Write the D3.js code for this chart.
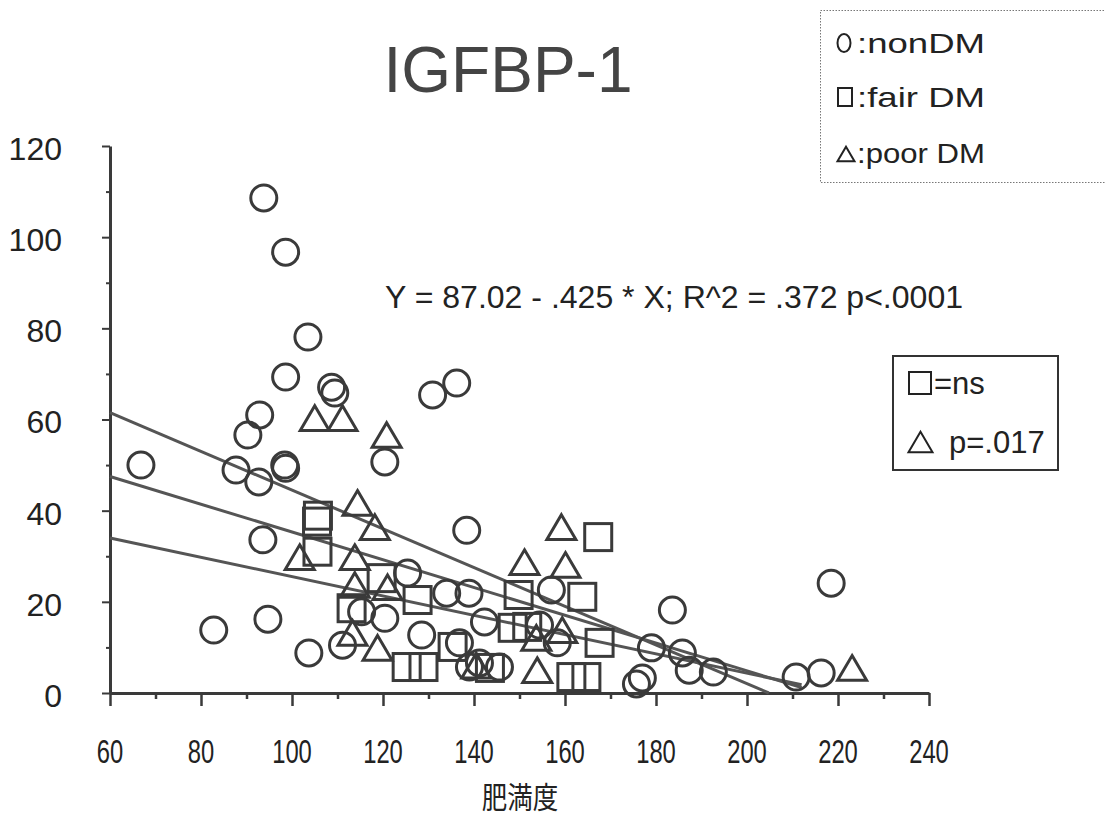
<!DOCTYPE html>
<html>
<head>
<meta charset="utf-8">
<script src="https://cdn.jsdelivr.net/npm/d3@7"></script>
<style>
  body { margin: 0; background: #fff; }
  svg { display: block; }
</style>
</head>
<body>
<div id="chart"></div>
<script>
// Chart values
var nonDmX = [66.8, 82.8, 93.8, 98.6, 103.5, 98.6, 108.7, 109.4, 92.9, 90.3, 87.7, 92.7, 98.4, 98.6,
    93.6, 94.7, 103.7, 111.1, 120.4, 130.9, 136.2, 138.4, 125.4, 115.3, 120.4, 134.0, 138.9,
    142.3, 128.5, 136.8, 139.0, 141.2, 145.6, 157.0, 154.4, 158.3, 175.7, 177.0, 183.6, 218.5,
    179.0, 185.8, 187.3, 192.6, 210.8, 216.3];
var nonDmY = [50.0, 13.8, 108.6, 96.7, 78.1, 69.3, 67.1, 65.8, 61.0, 56.6, 48.9, 46.3, 50.0, 49.3,
    33.6, 16.2, 8.8, 10.5, 50.7, 65.4, 68.0, 35.7, 26.3, 17.8, 16.4, 21.9, 21.9,
    15.6, 12.7, 11.0, 5.7, 6.6, 5.7, 22.6, 14.9, 11.0, 2.0, 3.3, 18.2, 24.1,
    9.9, 8.8, 5.0, 4.6, 3.5, 4.4];

var fairDmX = [105.7, 105.5, 105.6, 119.7, 113.1, 127.6, 125.2, 128.9, 135.3, 143.5, 149.8, 163.8,
    167.3, 148.5, 151.7, 167.6, 161.4, 164.7];
var fairDmY = [38.9, 37.6, 31.0, 25.2, 18.6, 20.4, 5.7, 5.7, 10.1, 5.5, 21.5, 21.1,
    34.2, 14.3, 14.5, 11.0, 3.5, 3.5];

var poorDmX = [105.0, 111.1, 120.8, 114.4, 118.2, 101.7, 113.8, 113.8, 121.0, 113.3, 118.8, 159.2,
    151.1, 160.1, 153.9, 223.1, 159.4, 153.7, 140.5];
var poorDmY = [60.3, 60.3, 56.6, 41.7, 36.4, 29.8, 29.8, 23.7, 23.2, 13.2, 9.9, 36.4,
    28.7, 28.1, 5.0, 5.5, 13.8, 12.1, 6.0];

// regression lines (start at x = 60)
var lineStartY = [61.5, 47.5, 34.0];
var lineEndX = [204.8, 212, 212];
var lineEndY = [0, 1.2, 1.8];

var xMajorTicks = [60, 80, 100, 120, 140, 160, 180, 200, 220, 240];
var yMajorTicks = [0, 20, 40, 60, 80, 100, 120];

var legendLabels = [":nonDM", ":fair DM", ":poor DM"];
var statLabels = ["=ns", "p=.017"];

var width = 1105, height = 817;
var ink = "#3a3a3a";

var svg = d3.select("#chart").append("svg")
    .attr("width", width)
    .attr("height", height);

var x = d3.scaleLinear().domain([60, 240]).range([110, 929]);
var y = d3.scaleLinear().domain([0, 120]).range([693, 146]);

// title
svg.append("text")
    .attr("x", 508)
    .attr("y", 92)
    .attr("text-anchor", "middle")
    .style("font-family", "Liberation Sans, Arial, sans-serif")
    .style("font-size", "64px")
    .style("fill", "#444")
    .text("IGFBP-1");

// x axis: minor then major ticks
svg.append("g")
    .attr("transform", "translate(0," + y(0) + ")")
    .call(d3.axisBottom(x).tickValues(d3.range(70, 240, 20)).tickSize(6).tickFormat("").tickSizeOuter(0))
    .call(g => g.select(".domain").remove())
    .selectAll("line").attr("stroke", ink).attr("stroke-width", 2.5);

var xAxis = svg.append("g")
    .attr("transform", "translate(0," + y(0) + ")")
    .call(d3.axisBottom(x).tickValues(xMajorTicks).tickSize(13).tickFormat("").tickSizeOuter(0));
xAxis.select(".domain").attr("stroke", ink).attr("stroke-width", 3);
xAxis.selectAll("line").attr("stroke", ink).attr("stroke-width", 2.5);

svg.append("g")
    .selectAll("text")
    .data(xMajorTicks)
    .enter()
    .append("text")
    .attr("transform", d => "translate(" + x(d) + ",763) scale(0.7,1)")
    .attr("text-anchor", "middle")
    .style("font-family", "Liberation Sans, Arial, sans-serif")
    .style("font-size", "34px")
    .style("fill", "#222")
    .text(d => d);

// y axis
svg.append("g")
    .attr("transform", "translate(" + x(60) + ",0)")
    .call(d3.axisLeft(y).tickValues(d3.range(10, 120, 20)).tickSize(4).tickFormat("").tickSizeOuter(0))
    .call(g => g.select(".domain").remove())
    .selectAll("line").attr("stroke", ink).attr("stroke-width", 2);

var yAxis = svg.append("g")
    .attr("transform", "translate(" + x(60) + ",0)")
    .call(d3.axisLeft(y).tickValues(yMajorTicks).tickSize(8).tickPadding(40).tickSizeOuter(0));
yAxis.select(".domain").attr("stroke", ink).attr("stroke-width", 3);
yAxis.selectAll("line").attr("stroke", ink).attr("stroke-width", 2);
yAxis.selectAll("text")
    .attr("dy", "0.42em")
    .style("font-family", "Liberation Sans, Arial, sans-serif")
    .style("font-size", "32px")
    .style("fill", "#222");

// x axis title
svg.append("text")
    .attr("transform", "translate(520,808) scale(0.85,1)")
    .attr("text-anchor", "middle")
    .style("font-family", "Noto Sans CJK JP, sans-serif")
    .style("font-size", "30px")
    .style("fill", "#222")
    .text("肥満度");

// equation
svg.append("text")
    .attr("x", 385)
    .attr("y", 308)
    .attr("textLength", 578)
    .attr("lengthAdjust", "spacingAndGlyphs")
    .style("font-family", "Liberation Sans, Arial, sans-serif")
    .style("font-size", "31px")
    .style("fill", "#222")
    .text("Y = 87.02 - .425 * X; R^2 = .372 p<.0001");

// regression lines
var fit = d3.line().x(d => x(d[0])).y(d => y(d[1]));
svg.append("g")
    .selectAll("path")
    .data(lineStartY.map((s, i) => [[60, s], [lineEndX[i], lineEndY[i]]]))
    .enter()
    .append("path")
    .attr("d", fit)
    .attr("fill", "none")
    .attr("stroke", "#555")
    .attr("stroke-width", 3);

// markers
var marks = svg.append("g")
    .attr("fill", "none")
    .attr("stroke", ink)
    .attr("stroke-width", 3);

var triangle = function(cx, cy, s) {
    var p = d3.path();
    p.moveTo(cx, cy - s * 0.85);
    p.lineTo(cx + s, cy + s * 0.85);
    p.lineTo(cx - s, cy + s * 0.85);
    p.closePath();
    return p.toString();
};

marks.selectAll(".fair")
    .data(fairDmX.map((v, i) => [v, fairDmY[i]]))
    .enter()
    .append("rect")
    .attr("class", "fair")
    .attr("x", d => x(d[0]) - 13.5)
    .attr("y", d => y(d[1]) - 13.5)
    .attr("width", 27)
    .attr("height", 27);

marks.selectAll(".poor")
    .data(poorDmX.map((v, i) => [v, poorDmY[i]]))
    .enter()
    .append("path")
    .attr("class", "poor")
    .attr("d", d => triangle(x(d[0]), y(d[1]), 14.5));

marks.selectAll(".non")
    .data(nonDmX.map((v, i) => [v, nonDmY[i]]))
    .enter()
    .append("circle")
    .attr("class", "non")
    .attr("cx", d => x(d[0]))
    .attr("cy", d => y(d[1]))
    .attr("r", 13);

// legend: groups
var legend = svg.append("g");
legend.append("rect")
    .attr("x", 820.5)
    .attr("y", 10.5)
    .attr("width", 290)
    .attr("height", 172)
    .attr("fill", "none")
    .attr("stroke", "#777")
    .attr("stroke-width", 1)
    .attr("stroke-dasharray", "1.5,1.5");

var legendY = [43, 97, 153];
var lg = legend.append("g").attr("fill", "none").attr("stroke", "#222").attr("stroke-width", 2);
lg.append("ellipse").attr("cx", 844).attr("cy", legendY[0]).attr("rx", 6.5).attr("ry", 9);
lg.append("rect").attr("x", 838).attr("y", legendY[1] - 9).attr("width", 14).attr("height", 18);
lg.append("path").attr("d", triangle(846, legendY[2] + 1, 8.5));

legend.selectAll("text")
    .data(legendLabels)
    .enter()
    .append("text")
    .attr("x", 857)
    .attr("y", (d, i) => legendY[i] + 10)
    .attr("textLength", 128)
    .attr("lengthAdjust", "spacingAndGlyphs")
    .style("font-family", "Liberation Sans, Arial, sans-serif")
    .style("font-size", "28px")
    .style("fill", "#222")
    .text(d => d);

// legend: significance
var stat = svg.append("g");
stat.append("rect")
    .attr("x", 893)
    .attr("y", 356)
    .attr("width", 165)
    .attr("height", 114)
    .attr("fill", "#fff")
    .attr("stroke", "#333")
    .attr("stroke-width", 2);

var statY = [383, 442];
var sg = stat.append("g").attr("fill", "none").attr("stroke", "#222").attr("stroke-width", 2);
sg.append("rect").attr("x", 909).attr("y", statY[0] - 11).attr("width", 22).attr("height", 22);
sg.append("path").attr("d", triangle(920.5, statY[1], 12));

stat.selectAll("text")
    .data(statLabels)
    .enter()
    .append("text")
    .attr("x", (d, i) => i === 0 ? 934 : 949)
    .attr("y", (d, i) => statY[i] + 11)
    .style("font-family", "Liberation Sans, Arial, sans-serif")
    .style("font-size", "31px")
    .style("fill", "#222")
    .text(d => d);
</script>
</body>
</html>
